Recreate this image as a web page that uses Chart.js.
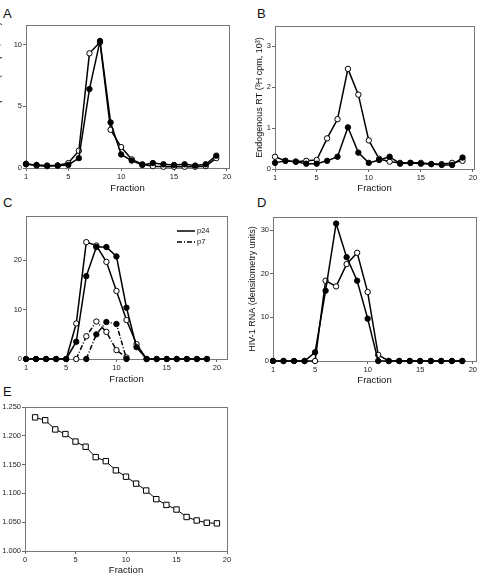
<!DOCTYPE html>
<html>
<head>
<meta charset="utf-8">
<script src="https://cdn.jsdelivr.net/npm/chart.js@4.4.1/dist/chart.umd.min.js"></script>
<style>
  body { margin: 0; background: #fff; width: 481px; height: 577px; overflow: hidden; position: relative; font-family: "Liberation Sans", Arial, sans-serif; }
  canvas { position: absolute; }
  .letra { position: absolute; font-size: 13px; color: #111; line-height: 1; }
</style>
</head>
<body>
<div class="letra" style="left:3px;top:7px">A</div>
<div class="letra" style="left:257px;top:7px">B</div>
<div class="letra" style="left:3px;top:196px">C</div>
<div class="letra" style="left:257px;top:196px">D</div>
<div class="letra" style="left:3px;top:385px">E</div>

<canvas id="chartA" width="253" height="200" style="left:-12px;top:0px"></canvas>
<canvas id="chartB" width="241" height="200" style="left:240px;top:0px"></canvas>
<canvas id="chartC" width="240" height="195" style="left:0px;top:195px"></canvas>
<canvas id="chartD" width="241" height="195" style="left:240px;top:195px"></canvas>
<canvas id="chartE" width="240" height="192" style="left:0px;top:385px"></canvas>

<script>
// fracciones del gradiente
const fracciones = [1,2,3,4,5,6,7,8,9,10,11,12,13,14,15,16,17,18,19];

// A: actividad RT exogena
const rtA_lleno   = [0.3,0.25,0.2,0.2,0.25,0.8,6.4,10.3,3.7,1.1,0.6,0.25,0.4,0.3,0.25,0.3,0.2,0.3,1.0];
const rtA_abierto = [0.35,0.2,0.15,0.2,0.4,1.4,9.3,10.2,3.1,1.7,0.7,0.3,0.15,0.1,0.1,0.1,0.1,0.15,0.8];

// B: RT endogena
const rtB_abierto = [0.3,0.2,0.18,0.2,0.22,0.75,1.22,2.45,1.82,0.7,0.25,0.18,0.15,0.15,0.15,0.12,0.12,0.15,0.2];
const rtB_lleno   = [0.15,0.2,0.18,0.13,0.13,0.2,0.3,1.02,0.4,0.15,0.22,0.3,0.13,0.15,0.13,0.12,0.1,0.1,0.28];

// C: p24 y p7
const p24_abierto = [0,0,0,0,0,7.2,23.7,23.0,19.7,13.8,7.9,3.0,0,0,0,0,0,0,0];
const p24_lleno   = [0,0,0,0,0,3.5,16.8,22.7,22.7,20.8,10.4,2.4,0,0,0,0,0,0,0];
const p7_abierto  = [null,null,null,null,null,0,4.6,7.6,5.5,1.8,0.3,null,null,null,null,null,null,null,null];
const p7_lleno    = [null,null,null,null,null,null,0,5.0,7.5,7.1,0,null,null,null,null,null,null,null,null];
const leyendaC = ["p24", "p7"];

// D: ARN HIV-1
const rnaD_lleno   = [0,0,0,0,2.0,16.1,31.5,23.8,18.4,9.7,0,0,0,0,0,0,0,0,0];
const rnaD_abierto = [0,0,0,0,0,18.4,17.1,22.2,24.8,15.8,1.4,0,0,0,0,0,0,0,0];

// E: densidad
const densidadE = [1.232,1.227,1.211,1.203,1.190,1.181,1.163,1.156,1.140,1.129,1.117,1.105,1.090,1.080,1.072,1.059,1.053,1.049,1.048];

// ticks
const ticksX  = [1,5,10,15,20];
const ticksXE = [0,5,10,15,20];
const ticksYA = [0,5,10];
const ticksYB = [0,1,2,3];
const ticksYC = [0,10,20];
const ticksYD = [0,10,20,30];
const ticksYE = [1.000,1.050,1.100,1.150,1.200,1.250];

Chart.defaults.font.family = '"Liberation Sans", Arial, sans-serif';
Chart.defaults.color = "#222";

const puntos = (arr) => fracciones.map((f, i) => ({x: f, y: arr[i]}));

function serie(arr, relleno, extra) {
  return Object.assign({
    data: puntos(arr),
    borderColor: "#000",
    borderWidth: 1.5,
    pointRadius: 2.7,
    pointBorderWidth: 1,
    pointBorderColor: "#000",
    pointBackgroundColor: relleno ? "#000" : "#fff",
    tension: 0,
    clip: false
  }, extra || {});
}

// marco alrededor del area
const marco = {
  id: "marco",
  beforeDatasetsDraw(chart) {
    const {ctx, chartArea: a} = chart;
    ctx.save();
    ctx.strokeStyle = "#777";
    ctx.lineWidth = 1;
    ctx.strokeRect(Math.round(a.left) + 0.5, Math.round(a.top) + 0.5, Math.round(a.width), Math.round(a.height));
    ctx.restore();
  }
};

function crearPanel(id, o) {
  new Chart(document.getElementById(id), {
    type: "line",
    data: {datasets: o.datasets},
    plugins: [marco].concat(o.plugins || []),
    options: {
      responsive: false,
      animation: false,
      layout: {padding: o.padding},
      plugins: {legend: {display: false}, tooltip: {enabled: false}},
      scales: {
        x: {
          type: "linear", min: o.xMin, max: o.xMax,
          afterBuildTicks: s => { s.ticks = o.xTicks.map(v => ({value: v})); },
          afterFit: s => { s.height = o.xAlto; },
          grid: {drawOnChartArea: false, tickLength: 3, color: "#666"},
          border: {display: false},
          ticks: {font: {size: 7.5}, padding: 1, autoSkip: false, maxRotation: 0},
          title: {display: true, text: "Fraction", font: {size: 9.5}, color: "#111", padding: {top: 0, bottom: o.pb}}
        },
        y: {
          min: o.yMin, max: o.yMax,
          afterBuildTicks: s => { s.ticks = o.yTicks.map(v => ({value: v})); },
          afterFit: s => { s.width = o.yAncho; },
          grid: {drawOnChartArea: false, tickLength: 3, color: "#666"},
          border: {display: false},
          ticks: {font: {size: 7.5}, padding: 1, callback: o.formato || (v => v)},
          title: {display: !!o.yTitulo, text: o.yTitulo, font: {size: 9}, color: "#111", padding: {top: 4, bottom: 0}}
        }
      }
    }
  });
}

crearPanel("chartA", {
  datasets: [serie(rtA_lleno, true), serie(rtA_abierto, false)],
  padding: {left: 0, right: 12, top: 25, bottom: 0},
  xMin: 1, xMax: 20.2, xTicks: ticksX, xAlto: 32, pb: 6,
  yMin: 0, yMax: 11.6, yTicks: ticksYA, yAncho: 38,
  yTitulo: "Reverse Transcriptase (\u00B3H cpm, 10\u207B\u00B3)"
});

crearPanel("chartB", {
  datasets: [serie(rtB_lleno, true), serie(rtB_abierto, false)],
  padding: {left: 10, right: 7, top: 26, bottom: 0},
  xMin: 1, xMax: 20.1, xTicks: ticksX, xAlto: 31, pb: 6,
  yMin: 0, yMax: 3.5, yTicks: ticksYB, yAncho: 25,
  yTitulo: "Endogenous RT (\u00B3H cpm, 10\u00B3)"
});

// leyenda de C dibujada junto al area
const leyenda = {
  id: "leyenda",
  afterDatasetsDraw(chart) {
    const {ctx, chartArea: a} = chart;
    const estilos = [[], [5, 2, 1, 2]];
    ctx.save();
    ctx.font = '7.5px "Liberation Sans", Arial, sans-serif';
    ctx.textBaseline = "middle";
    ctx.fillStyle = "#111";
    leyendaC.forEach((txt, i) => {
      const y = a.top + 15 + i * 11;
      ctx.setLineDash(estilos[i]);
      ctx.strokeStyle = "#000";
      ctx.lineWidth = 1.5;
      ctx.beginPath();
      ctx.moveTo(a.right - 50, y);
      ctx.lineTo(a.right - 32, y);
      ctx.stroke();
      ctx.fillText(txt, a.right - 30, y);
    });
    ctx.restore();
  }
};

crearPanel("chartC", {
  datasets: [
    serie(p24_lleno, true),
    serie(p7_lleno, true, {borderDash: [5, 2, 1, 2]}),
    serie(p24_abierto, false),
    serie(p7_abierto, false, {borderDash: [5, 2, 1, 2]})
  ],
  plugins: [leyenda],
  padding: {left: 0, right: 13, top: 21, bottom: 0},
  xMin: 1, xMax: 21, xTicks: ticksX, xAlto: 31, pb: 5,
  yMin: 0, yMax: 29, yTicks: ticksYC, yAncho: 26
});

crearPanel("chartD", {
  datasets: [serie(rnaD_lleno, true), serie(rnaD_abierto, false)],
  padding: {left: 3, right: 3, top: 22, bottom: 0},
  xMin: 1, xMax: 20.3, xTicks: ticksX, xAlto: 29, pb: 4,
  yMin: 0, yMax: 33, yTicks: ticksYD, yAncho: 30,
  yTitulo: "HIV-1 RNA (densitometry units)"
});

crearPanel("chartE", {
  datasets: [serie(densidadE, false, {borderWidth: 1, pointStyle: "rect", pointRadius: 3.8})],
  padding: {left: 0, right: 13, top: 22, bottom: 0},
  xMin: 0, xMax: 20, xTicks: ticksXE, xAlto: 26, pb: 1,
  yMin: 1.0, yMax: 1.25, yTicks: ticksYE, yAncho: 25,
  formato: v => v.toFixed(3)
});
</script>
</body>
</html>
